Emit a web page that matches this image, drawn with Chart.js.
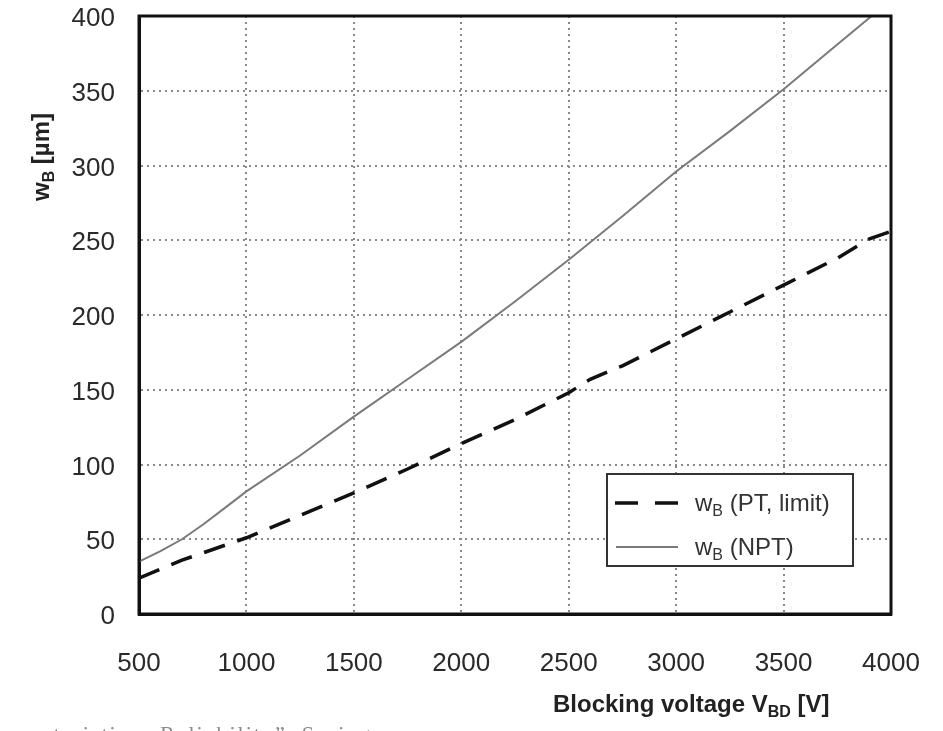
<!DOCTYPE html>
<html>
<head>
<meta charset="utf-8">
<script src="https://cdn.jsdelivr.net/npm/chart.js@4"></script>
<style>
  html, body { margin: 0; padding: 0; background: #fff; }
  #wrap { width: 943px; height: 731px; position: relative; }
</style>
</head>
<body>
<div id="wrap"><canvas id="chart" width="943" height="731"></canvas></div>
<script>
// blocking voltage [V] and base width [um]
var ptVolts = [500, 600, 700, 800, 900, 1000, 1250, 1500, 1750, 2000, 2250, 2500, 2600, 2750, 3000, 3250, 3500, 3750, 3900, 4000];
var ptWidth = [24, 30, 36, 41, 46, 51, 66, 81, 97, 114, 130, 148, 157, 166, 184, 202, 220, 238, 251, 256];
var nptVolts = [500, 600, 700, 800, 900, 1000, 1250, 1500, 1750, 2000, 2250, 2500, 2750, 3000, 3250, 3500, 3750, 3910];
var nptWidth = [35, 42, 50, 60, 71, 82, 106, 132, 157, 182, 209, 237, 266, 296, 323, 351, 381, 400];
var xTicks = [500, 1000, 1500, 2000, 2500, 3000, 3500, 4000];
var yTicks = [0, 50, 100, 150, 200, 250, 300, 350, 400];

var FONT = '"Liberation Sans", Arial, sans-serif';

function pairs(xs, ys) {
    return xs.map(function (v, i) { return { x: v, y: ys[i] }; });
}

// text with a subscript part, drawn left to right from x
function subText(ctx, parts, x, y, size, bold) {
    var w = bold ? 'bold ' : '';
    parts.forEach(function (p) {
        var s = p.sub ? Math.round(size * 0.68) : size;
        ctx.font = w + s + 'px ' + FONT;
        ctx.fillText(p.t, x, y + (p.sub ? size * 0.22 : 0));
        x += ctx.measureText(p.t).width;
    });
    return x;
}
function subWidth(ctx, parts, size, bold) {
    var w = 0, b = bold ? 'bold ' : '';
    parts.forEach(function (p) {
        ctx.font = b + (p.sub ? Math.round(size * 0.68) : size) + 'px ' + FONT;
        w += ctx.measureText(p.t).width;
    });
    return w;
}

var extras = {
    id: 'extras',
    afterDraw: function (chart) {
        var ctx = chart.ctx, a = chart.chartArea;
        ctx.save();
        // frame
        ctx.strokeStyle = '#111';
        ctx.lineWidth = 3;
        ctx.strokeRect(a.left, a.top, a.right - a.left, a.bottom - a.top);

        // legend box
        var lx = 607, ly = 474, lw = 246, lh = 92;
        ctx.fillStyle = '#fff';
        ctx.fillRect(lx, ly, lw, lh);
        ctx.strokeStyle = '#333';
        ctx.lineWidth = 2;
        ctx.strokeRect(lx, ly, lw, lh);

        ctx.lineWidth = 3.5;
        ctx.strokeStyle = '#111';
        ctx.setLineDash([23, 17]);
        ctx.beginPath(); ctx.moveTo(615, 503); ctx.lineTo(679, 503); ctx.stroke();
        ctx.setLineDash([]);
        ctx.lineWidth = 2;
        ctx.strokeStyle = '#7a7a7a';
        ctx.beginPath(); ctx.moveTo(616, 547); ctx.lineTo(678, 547); ctx.stroke();

        ctx.fillStyle = '#333';
        ctx.textBaseline = 'alphabetic';
        ctx.textAlign = 'left';
        subText(ctx, [{ t: 'w' }, { t: 'B', sub: true }, { t: ' (PT, limit)' }], 695, 511, 24, false);
        subText(ctx, [{ t: 'w' }, { t: 'B', sub: true }, { t: ' (NPT)' }], 695, 555, 24, false);

        // axis titles
        ctx.fillStyle = '#222';
        subText(ctx, [{ t: 'Blocking voltage V' }, { t: 'BD', sub: true }, { t: ' [V]' }], 553, 712, 24, true);
        var yParts = [{ t: 'w' }, { t: 'B', sub: true }, { t: ' [\u00b5m]' }];
        var yw = subWidth(ctx, yParts, 24, true);
        ctx.translate(49, 157);
        ctx.rotate(-Math.PI / 2);
        subText(ctx, yParts, -yw / 2, 0, 24, true);
        ctx.restore();

        // cut-off source line at the bottom
        ctx.save();
        ctx.fillStyle = '#8a8a8a';
        ctx.font = '22px "Liberation Serif", "Times New Roman", serif';
        ctx.letterSpacing = '2px';
        ctx.fillText('haracteristics,', -4, 741);
        ctx.fillText('Reliability\u201d, Springer', 160, 741);
        ctx.restore();
    }
};

var ctx = document.getElementById('chart').getContext('2d');
var chart = new Chart(ctx, {
    type: 'line',
    data: {
        datasets: [{
            label: 'wB (PT, limit)',
            data: pairs(ptVolts, ptWidth),
            borderColor: '#111',
            borderWidth: 3.5,
            borderDash: [22, 13],
            pointRadius: 0,
            tension: 0
        }, {
            label: 'wB (NPT)',
            data: pairs(nptVolts, nptWidth),
            borderColor: '#7a7a7a',
            borderWidth: 2,
            pointRadius: 0,
            tension: 0
        }]
    },
    options: {
        responsive: false,
        animation: false,
        layout: { padding: { top: 16, right: 52, left: 0, bottom: 0 } },
        plugins: {
            legend: { display: false },
            tooltip: { enabled: false }
        },
        scales: {
            x: {
                type: 'linear',
                min: 500,
                max: 4000,
                afterBuildTicks: function (s) { s.ticks = xTicks.map(function (v) { return { value: v }; }); },
                afterFit: function (s) { s.height = 117; s.paddingLeft = 0; s.paddingRight = 0; },
                ticks: {
                    padding: 34, color: '#2a2a2a', font: { family: FONT, size: 26 },
                    callback: function (v) { return String(v); }
                },
                grid: { color: '#8a8a8a', lineWidth: 2, drawTicks: false },
                border: { display: true, color: '#111', width: 3, dash: [2, 4] }
            },
            y: {
                min: 0,
                max: 400,
                afterBuildTicks: function (s) { s.ticks = yTicks.map(function (v) { return { value: v }; }); },
                afterFit: function (s) { s.width = 139; s.paddingTop = 0; s.paddingBottom = 0; },
                ticks: {
                    padding: 24, labelOffset: 3, color: '#2a2a2a', font: { family: FONT, size: 26 },
                    callback: function (v) { return String(v); }
                },
                grid: { color: '#8a8a8a', lineWidth: 2, drawTicks: false },
                border: { display: true, color: '#111', width: 3, dash: [2, 4] }
            }
        }
    },
    plugins: [extras]
});
</script>
</body>
</html>
